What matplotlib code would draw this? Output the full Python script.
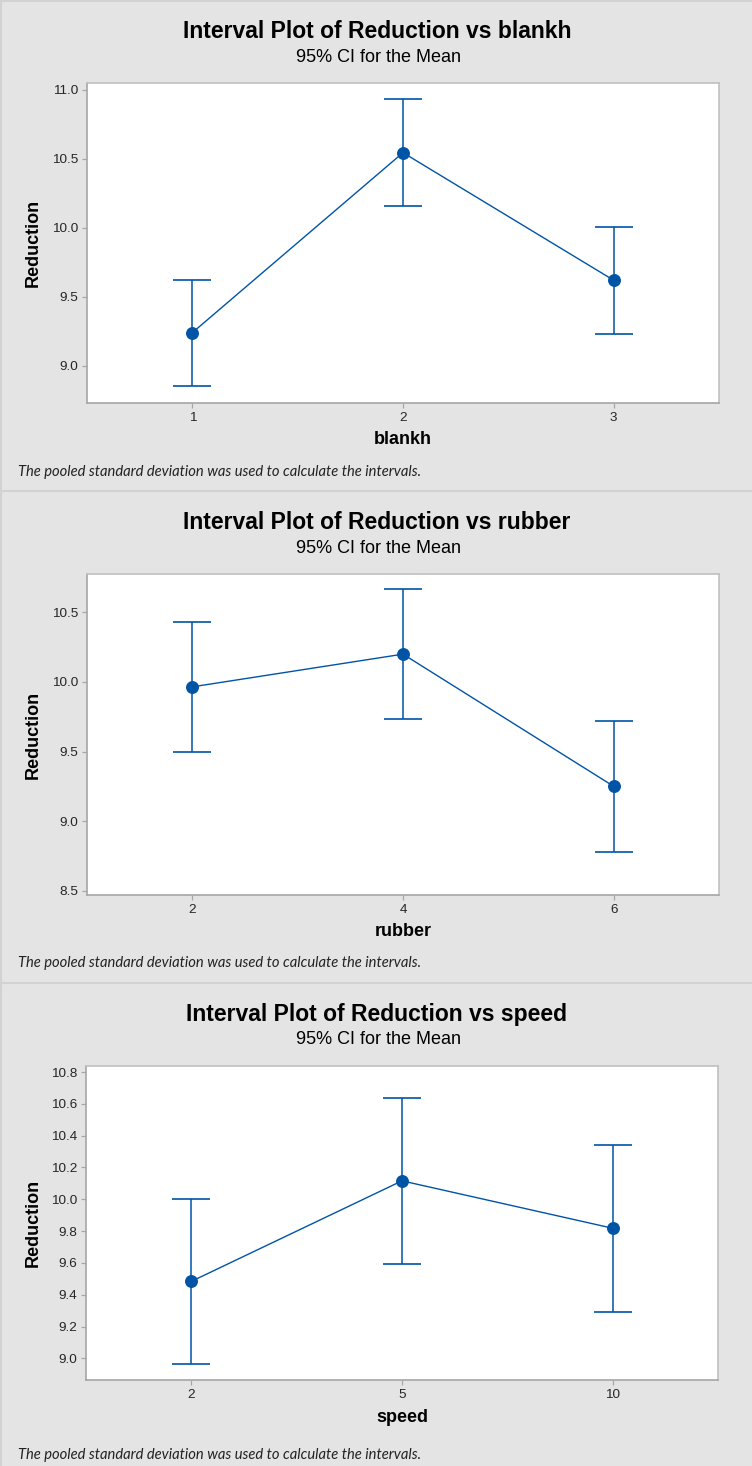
import matplotlib
matplotlib.use("Agg")
import matplotlib.pyplot as plt
from matplotlib.lines import Line2D
import numpy as np

# ---------------- data ----------------
blankh_levels = ['1', '2', '3']
blankh_mean = [9.240, 10.545, 9.620]
blankh_lower = [8.850, 10.155, 9.230]
blankh_upper = [9.625, 10.935, 10.005]

rubber_levels = ['2', '4', '6']
rubber_mean = [9.965, 10.200, 9.250]
rubber_lower = [9.497, 9.735, 8.779]
rubber_upper = [10.430, 10.665, 9.717]

speed_levels = ['2', '5', '10']
speed_mean = [9.484, 10.116, 9.818]
speed_lower = [8.962, 9.594, 9.293]
speed_upper = [10.004, 10.636, 10.343]

W, H = 752, 1466
DPI = 100
BLUE = '#0054a6'
BG = '#e4e4e4'
SPINE = '#a6a6a6'

fig = plt.figure(figsize=(W / DPI, H / DPI), dpi=DPI, facecolor=BG)

def fx(x):
    return x / W

def fy(y):
    return 1 - y / H

# panel separators / borders
for yy in [1.0, 490.5, 982.5]:
    fig.add_artist(Line2D([0, 1], [fy(yy), fy(yy)], color='#d2d2d2', lw=1.5, transform=fig.transFigure))
fig.add_artist(Line2D([fx(1.5), fx(1.5)], [0, 1], color='#d2d2d2', lw=1.5, transform=fig.transFigure))

panels = [
    dict(name='blankh', levels=blankh_levels, mean=blankh_mean, lo=blankh_lower, hi=blankh_upper,
         box=(87, 83, 719, 403), ylim=(8.73, 11.05), yticks=np.arange(9.0, 11.01, 0.5), off=0),
    dict(name='rubber', levels=rubber_levels, mean=rubber_mean, lo=rubber_lower, hi=rubber_upper,
         box=(87, 574, 719, 895), ylim=(8.469, 10.776), yticks=np.arange(8.5, 10.51, 0.5), off=491),
    dict(name='speed', levels=speed_levels, mean=speed_mean, lo=speed_lower, hi=speed_upper,
         box=(86, 1066, 718, 1380), ylim=(8.864, 10.838), yticks=np.arange(9.0, 10.81, 0.2), off=983),
]

renderer = fig.canvas.get_renderer()

def fit_text(t, target_px):
    bb = t.get_window_extent(renderer=renderer)
    t.set_fontsize(t.get_fontsize() * target_px / bb.width)
    return t.get_fontsize()

title_size = None
for p in panels:
    l, t, r, b = p['box']
    ax = fig.add_axes([fx(l), fy(b), (r - l) / W, (b - t) / H])
    ax.set_facecolor('white')
    x = np.arange(len(p['levels']))
    mean = np.array(p['mean'])
    lo = np.array(p['lo'])
    hi = np.array(p['hi'])
    ax.errorbar(x, mean, yerr=[mean - lo, hi - mean], fmt='none', ecolor=BLUE,
                elinewidth=1.1, capsize=13.5, capthick=1.2, zorder=2)
    ax.plot(x, mean, '-', color=BLUE, lw=1.0, zorder=3)
    ax.plot(x, mean, 'o', color=BLUE, ms=8.3, zorder=4)
    ax.set_xlim(-0.5, 2.5)
    ax.set_ylim(*p['ylim'])
    ax.set_xticks(x)
    ax.set_xticklabels(p['levels'])
    ax.set_yticks(p['yticks'])
    ax.set_yticklabels(['%.1f' % v for v in p['yticks']])
    for s in ax.spines.values():
        s.set_color(SPINE)
        s.set_linewidth(1.2)
    ax.spines['top'].set_color('#c0c0c0')
    ax.spines['right'].set_color('#c0c0c0')
    ax.tick_params(axis='both', colors=SPINE, length=3.5, width=0.9, labelsize=9.7,
                   labelcolor='#262626', pad=3)
    for lab in ax.get_xticklabels() + ax.get_yticklabels():
        lab.set_family('Liberation Sans')

    o = p['off']
    tt = fig.text(fx(377), fy(o + 32), 'Interval Plot of Reduction vs %s' % p['name'],
                  ha='center', va='center', fontsize=16.5, fontweight='bold',
                  family='Liberation Sans', color='black')
    if title_size is None:
        title_size = fit_text(tt, 388)
    else:
        tt.set_fontsize(title_size)
    fig.text(fx(378), fy(o + 57), '95% CI for the Mean', ha='center', va='center',
             fontsize=13, family='Liberation Sans', color='black')
    fig.text(fx(33), fy((t + b) / 2), 'Reduction', ha='center', va='center', rotation=90,
             fontsize=13, fontweight='bold', family='Liberation Sans', color='black')
    fig.text(fx((l + r) / 2), fy(b + 37), p['name'], ha='center', va='center',
             fontsize=13, fontweight='bold', family='Liberation Sans', color='black')
    fn = fig.text(fx(18), fy(o + 472), 'The pooled standard deviation was used to calculate the intervals.',
                  ha='left', va='center', fontsize=9.5, style='italic', family='Lato', color='#222222')
    fit_text(fn, 407)

fig.savefig('out.png', dpi=DPI, facecolor=BG)
